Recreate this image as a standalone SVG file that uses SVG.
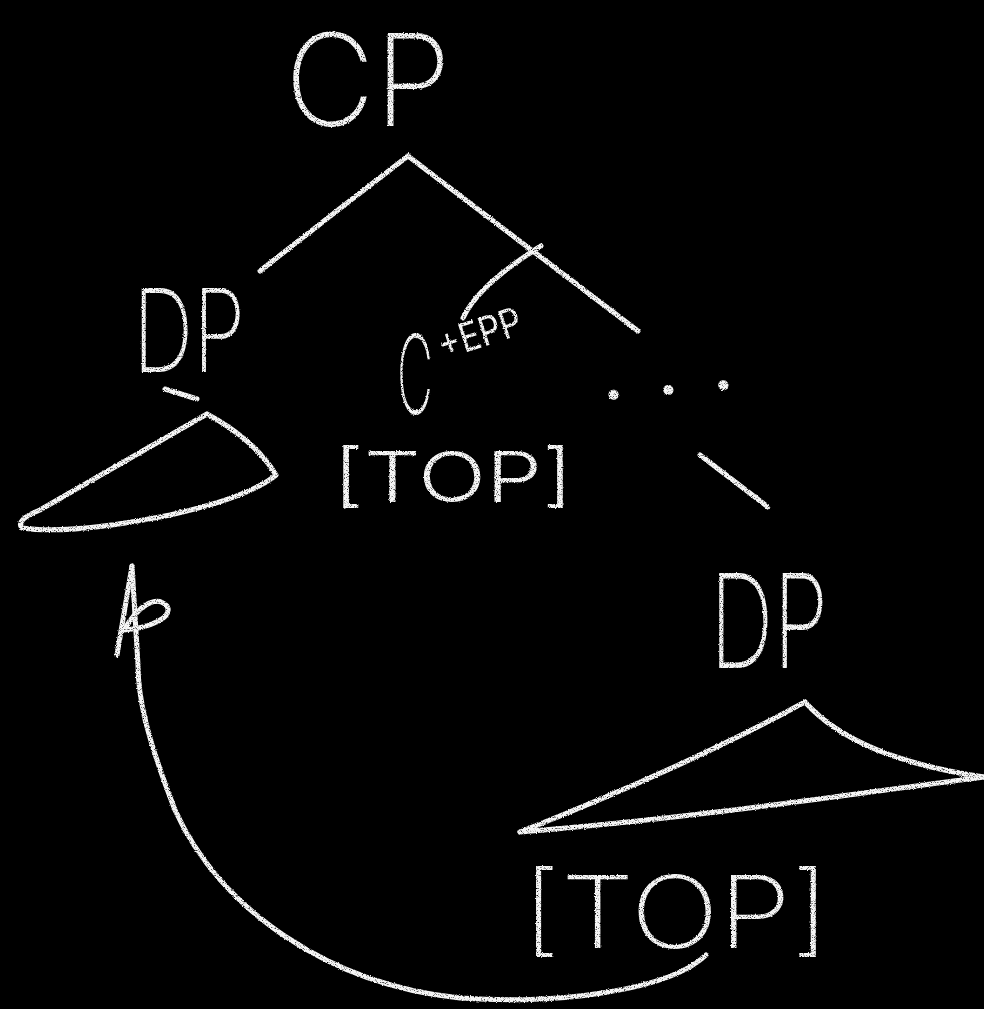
<svg xmlns="http://www.w3.org/2000/svg" width="984" height="1009" viewBox="0 0 984 1009">
  <defs>
    <!-- grainy chalk texture: speckle mask plus a slight edge wobble -->
    <filter id="chalk" filterUnits="userSpaceOnUse" x="0" y="0" width="984" height="1009">
      <feTurbulence type="fractalNoise" baseFrequency="0.85" numOctaves="2" seed="7" result="noise"/>
      <feColorMatrix in="noise" type="matrix" values="0 0 0 0 1  0 0 0 0 1  0 0 0 0 1  3.2 0 0 0 -0.45" result="speckle"/>
      <feDisplacementMap in="SourceGraphic" in2="noise" scale="2.5" xChannelSelector="R" yChannelSelector="G" result="rough"/>
      <feComposite in="rough" in2="speckle" operator="in"/>
    </filter>
    <style>
      .stroke { fill: none; stroke: #f6f6f6; stroke-width: 5; stroke-linecap: round; stroke-linejoin: round; }
      .lbl { fill: #f6f6f6; font-family: Inter, "Open Sans", "Noto Sans", "Liberation Sans", sans-serif; }
      .big { font-weight: 200; }
      .mid { font-weight: 300; }
      .small { font-weight: 400; }
    </style>
  </defs>
  <rect width="984" height="1009" fill="#000"/>

  <g filter="url(#chalk)">
    <!-- tree branches and the movement arrow -->
    <g id="connectors" class="stroke">
      <path d="M408,156 Q335,212 260,271"/>
      <path d="M408,156 L638,331"/>
      <path d="M541,246 Q478,285 463,318"/>
      <path d="M700,455 L768,507"/>
      <path d="M706,955 C670,990 560,1005 460,998 C330,985 220,910 175,810 C148,740 138,700 138,665 L132,566"/>
      <path d="M132,566 L117,655"/>
      <path d="M124,630 C138,606 156,594 167,606 C174,618 148,628 124,630"/>
    </g>

    <g id="node-cp">
      <text class="lbl big" x="285" y="126" font-size="128" textLength="166" lengthAdjust="spacingAndGlyphs">CP</text>
    </g>

    <g id="node-dp-spec">
      <text class="lbl big" x="133" y="372" font-size="115" textLength="112" lengthAdjust="spacingAndGlyphs">DP</text>
      <g class="stroke">
        <path d="M165,389 L197,399"/>
        <path d="M207,414 Q255,440 276,475 Q250,497 170,515 Q70,535 22,528 Q15,520 40,510 L207,414"/>
      </g>
    </g>

    <g id="node-cbar">
      <text class="lbl big" x="397" y="414" font-size="110" textLength="36" lengthAdjust="spacingAndGlyphs">C</text>
      <text class="lbl small" x="443" y="360" font-size="40" textLength="86" lengthAdjust="spacingAndGlyphs" transform="rotate(-18 443 360)">+EPP</text>
    </g>

    <g id="node-top-mid">
      <text class="lbl mid" x="333" y="502" font-size="70" textLength="240" lengthAdjust="spacingAndGlyphs">[TOP]</text>
    </g>

    <g id="node-ellipsis">
      <text class="lbl" font-weight="700" x="604" y="400" font-size="60" letter-spacing="35" transform="rotate(-5 604 400)">...</text>
    </g>

    <g id="node-dp-low">
      <text class="lbl big" x="710" y="668" font-size="130" textLength="118" lengthAdjust="spacingAndGlyphs">DP</text>
      <g class="stroke">
        <path d="M805,702 C830,730 880,762 984,777"/>
        <path d="M805,702 Q690,765 520,832"/>
        <path d="M520,832 C700,818 880,790 984,777"/>
      </g>
    </g>

    <g id="node-top-low">
      <text class="lbl big" x="522" y="948" font-size="100" textLength="308" lengthAdjust="spacingAndGlyphs">[TOP]</text>
    </g>
  </g>
</svg>
